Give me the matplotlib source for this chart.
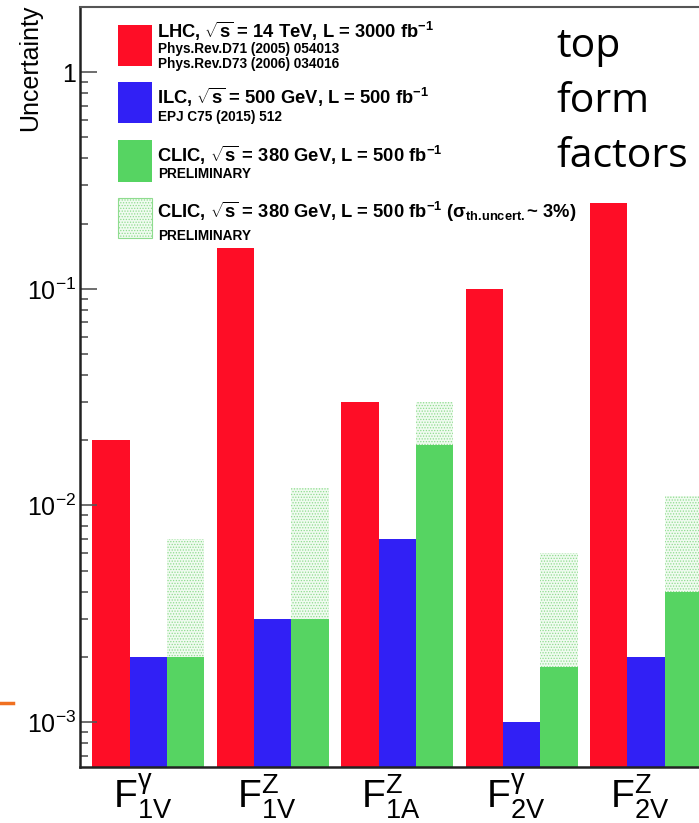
import matplotlib
matplotlib.use("Agg")
from matplotlib import pyplot as plt
from matplotlib.patches import Rectangle
from matplotlib.lines import Line2D
from matplotlib.ticker import FixedLocator, FixedFormatter, NullFormatter

# form factors and uncertainties
labels = [r"$\mathregular{F^{\gamma}_{1V}}$", r"$\mathregular{F^{Z}_{1V}}$", r"$\mathregular{F^{Z}_{1A}}$",
          r"$\mathregular{F^{\gamma}_{2V}}$", r"$\mathregular{F^{Z}_{2V}}$"]
lhc = [0.020, 0.155, 0.030, 0.100, 0.250]
ilc = [0.002, 0.003, 0.007, 0.001, 0.002]
clic = [0.002, 0.003, 0.019, 0.0018, 0.004]
clic_th = [0.007, 0.012, 0.030, 0.006, 0.011]

ytick_vals = [1e-3, 1e-2, 1e-1, 1]
ytick_labels = [r"$\mathregular{10^{-3}}$", r"$\mathregular{10^{-2}}$", r"$\mathregular{10^{-1}}$", "1"]

plt.rcParams["font.family"] = ["Liberation Sans", "DejaVu Sans"]
plt.rcParams["mathtext.fontset"] = "custom"
plt.rcParams["mathtext.rm"] = "Liberation Sans"
plt.rcParams["mathtext.it"] = "Liberation Sans:italic"
plt.rcParams["mathtext.bf"] = "Liberation Sans:bold"
plt.rcParams["hatch.linewidth"] = 0.6

W, H = 699, 823
fig = plt.figure(figsize=(W / 100, H / 100), dpi=100)

def fx(x):
    return x / W

def fy(y):
    return 1 - y / H

ax = fig.add_axes([fx(80), fy(767), (702 - 80) / W, (767 - 7) / H])
ax.set_yscale("log")
ax.set_ylim(6.2e-4, 2.0)
ax.set_xlim(0, 5)

red, blue, green = "#fe0d26", "#3120f5", "#56d462"
x = list(range(len(labels)))
base = 1e-5
ax.bar([i + 0.7 for i in x], [v - base for v in clic_th], width=0.3, bottom=base, align="edge",
       facecolor="#f0fbf0", edgecolor="#8fdc8f", hatch="......", linewidth=0)
ax.bar([i + 0.1 for i in x], [v - base for v in lhc], width=0.3, bottom=base, align="edge", color=red, linewidth=0)
ax.bar([i + 0.4 for i in x], [v - base for v in ilc], width=0.3, bottom=base, align="edge", color=blue, linewidth=0)
ax.bar([i + 0.7 for i in x], [v - base for v in clic], width=0.3, bottom=base, align="edge", color=green, linewidth=0)

ax.yaxis.set_major_locator(FixedLocator(ytick_vals))
ax.yaxis.set_major_formatter(FixedFormatter(ytick_labels))
minor = [m * 10.0 ** e for e in range(-4, 1) for m in range(2, 10)]
ax.yaxis.set_minor_locator(FixedLocator(minor))
ax.yaxis.set_minor_formatter(NullFormatter())
ax.tick_params(axis="y", which="major", direction="in", length=12, width=1.2, color="#555555",
               labelsize=18, pad=3)
ax.tick_params(axis="y", which="minor", direction="in", length=6, width=1.2, color="#555555")

ax.set_xticks([i + 0.5 for i in x])
ax.set_xticklabels(labels, fontsize=28)
ax.tick_params(axis="x", length=0, pad=4)

for s in ["left", "bottom"]:
    ax.spines[s].set_linewidth(1.8)
    ax.spines[s].set_color("#222222")
ax.spines["top"].set_linewidth(1.5)
ax.spines["top"].set_color("#555555")
ax.spines["right"].set_visible(False)

fig.text(fx(30), fy(5), "Uncertainty", rotation=90, ha="center", va="top", fontsize=18)

# legend
boxes = [(25, 66, red, None), (82, 123, blue, None), (140, 182, green, None), (198, 238, "#f0fbf0", "......")]
for y0, y1, c, h in boxes:
    if h:
        r = Rectangle((fx(118), fy(y1)), (152 - 118) / W, (y1 - y0) / H, transform=fig.transFigure,
                      facecolor=c, edgecolor="#8fdc8f", hatch=h, linewidth=0.8)
    else:
        r = Rectangle((fx(118), fy(y1)), (152 - 118) / W, (y1 - y0) / H, transform=fig.transFigure,
                      facecolor=c, linewidth=0)
    fig.patches.append(r)

main = [
    (31, r"LHC, $\mathbf{\sqrt{s}}$ = 14 TeV, L = 3000 fb$^{\mathbf{-1}}$"),
    (97, r"ILC, $\mathbf{\sqrt{s}}$ = 500 GeV, L = 500 fb$^{\mathbf{-1}}$"),
    (155, r"CLIC, $\mathbf{\sqrt{s}}$ = 380 GeV, L = 500 fb$^{\mathbf{-1}}$"),
    (212, r"CLIC, $\mathbf{\sqrt{s}}$ = 380 GeV, L = 500 fb$^{\mathbf{-1}}$ ($\mathbf{\sigma_{th.\!uncert.}}$~ 3%)"),
]
for y, t in main:
    fig.text(fx(157), fy(y), t, ha="left", va="center", fontsize=13.2, fontweight="bold")
subs = [(49, "Phys.Rev.D71 (2005) 054013"), (64, "Phys.Rev.D73 (2006) 034016"),
        (117, "EPJ C75 (2015) 512"), (174, "PRELIMINARY"), (236, "PRELIMINARY")]
for y, t in subs:
    fig.text(fx(158), fy(y), t, ha="left", va="center", fontsize=9.8, fontweight="bold")

for y, t in [(57, "top"), (112, "form"), (167, "factors")]:
    fig.text(fx(556), fy(y), t, ha="left", va="baseline", fontsize=29.5, family=["Open Sans", "DejaVu Sans"])

fig.lines.append(Line2D([0, fx(13)], [fy(703), fy(703)], transform=fig.transFigure, color="#f07020", linewidth=2.5))

fig.savefig("out.png", dpi=100)
